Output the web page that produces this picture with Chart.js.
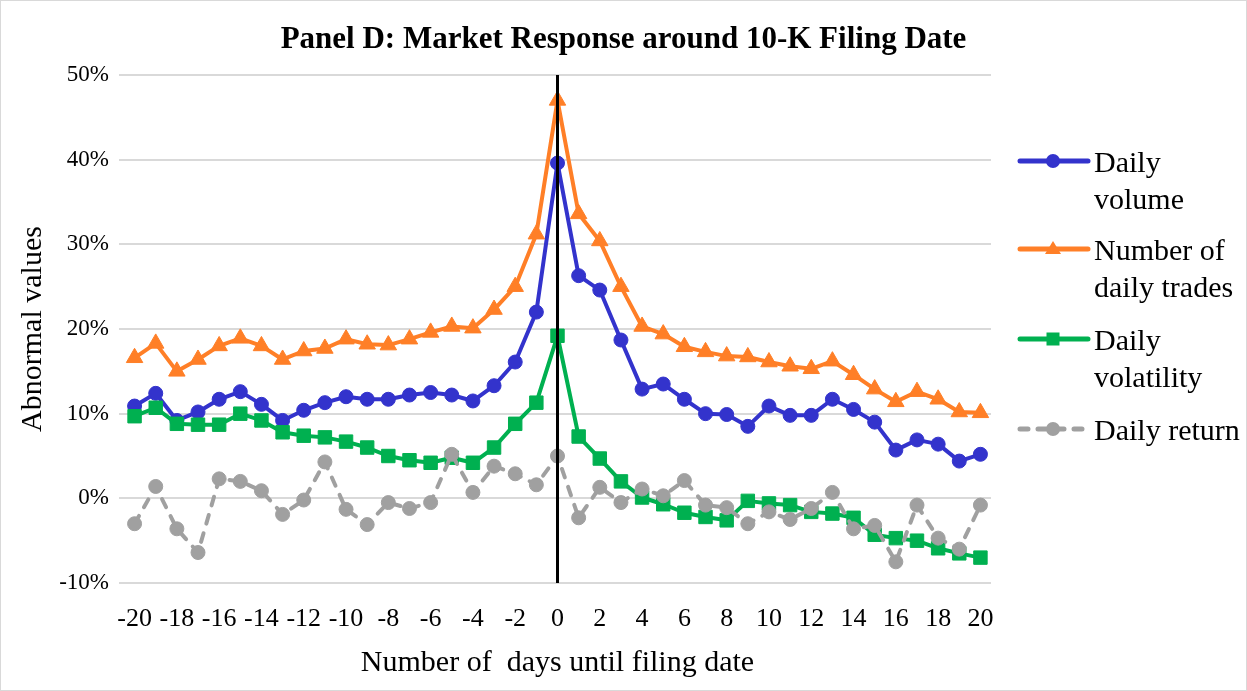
<!DOCTYPE html>
<html>
<head>
<meta charset="utf-8">
<script src="https://cdn.jsdelivr.net/npm/chart.js@4.4.1/dist/chart.umd.min.js"></script>
<style>
  html, body { margin: 0; padding: 0; background: #fff; }
  #wrap { position: relative; width: 1247px; height: 691px; overflow: hidden; }
  #c { position: absolute; left: 0; top: 0; }
  #frame { position: absolute; left: 0; top: 0; width: 1247px; height: 691px; box-sizing: border-box; border: 1px solid #d9d9d9; pointer-events: none; }
  .leg { position: absolute; left: 1017px; font-family: "Liberation Serif", serif; font-size: 30px; line-height: 37px; color: #000; }
  .leg svg { position: absolute; left: 0; top: 8px; }
  .leg .txt { position: absolute; left: 77px; top: 0; white-space: nowrap; }
</style>
</head>
<body>
<div id="wrap">
  <canvas id="c" width="1247" height="691"></canvas>
  <div id="legend"></div>
  <div id="frame"></div>
</div>
<script>
// ---- data ----
const categories = ["-20","-19","-18","-17","-16","-15","-14","-13","-12","-11","-10","-9","-8","-7","-6","-5","-4","-3","-2","-1","0","1","2","3","4","5","6","7","8","9","10","11","12","13","14","15","16","17","18","19","20"];
const dailyVolume = [10.9,12.4,9.2,10.2,11.7,12.6,11.1,9.2,10.4,11.3,12.0,11.7,11.7,12.2,12.5,12.2,11.5,13.3,16.1,22.0,39.6,26.3,24.6,18.7,12.9,13.5,11.7,10.0,9.9,8.5,10.9,9.8,9.8,11.7,10.5,9.0,5.7,6.9,6.4,4.4,5.2];
const dailyTrades = [16.6,18.3,15.0,16.4,18.0,18.9,18.0,16.4,17.4,17.7,18.8,18.2,18.1,18.8,19.6,20.3,20.1,22.3,25.0,31.2,47.0,33.6,30.4,25.0,20.3,19.4,17.9,17.3,16.8,16.7,16.1,15.6,15.3,16.2,14.6,12.9,11.4,12.6,11.7,10.2,10.1];
const dailyVolatility = [9.7,10.7,8.8,8.7,8.7,10.0,9.2,7.8,7.4,7.2,6.7,6.0,5.0,4.5,4.2,4.8,4.2,6.0,8.8,11.3,19.2,7.3,4.7,2.0,0.1,-0.7,-1.7,-2.2,-2.6,-0.3,-0.6,-0.8,-1.6,-1.8,-2.3,-4.3,-4.7,-5.0,-5.9,-6.5,-7.0];
const dailyReturn = [-3.0,1.4,-3.6,-6.4,2.3,2.0,0.9,-1.9,-0.2,4.3,-1.3,-3.1,-0.5,-1.2,-0.5,5.2,0.7,3.8,2.9,1.6,5.0,-2.3,1.3,-0.5,1.1,0.3,2.1,-0.8,-1.1,-3.0,-1.6,-2.5,-1.2,0.7,-3.6,-3.2,-7.5,-0.8,-4.7,-6.0,-0.8];
const seriesNames = ["Daily volume", "Number of daily trades", "Daily volatility", "Daily return"];
const legendLines = [["Daily", "volume"], ["Number of", "daily trades"], ["Daily", "volatility"], ["Daily return"]];
const filingDay = "0";
const yTicks = { min: -10, max: 50, step: 10 };
const titleText = "Panel D: Market Response around 10-K Filing Date";
const xTitle = "Number of  days until filing date";
const yTitle = "Abnormal values";

// ---- styles ----
const colors = ["#3333CC", "#FF7F27", "#00B050", "#A0A0A0"];
const styles = ["circle", "triangle", "rect", "circle"];
const radii = [7, 9.5, 9.5, 7];
const seriesData = [dailyVolume, dailyTrades, dailyVolatility, dailyReturn];
const FONT = '"Liberation Serif", serif';

const datasets = seriesData.map((d, i) => ({
  label: seriesNames[i],
  data: d,
  borderColor: colors[i],
  backgroundColor: colors[i],
  borderWidth: 4,
  borderDash: i === 3 ? [9, 10] : [],
  borderCapStyle: i === 3 ? 'round' : 'butt',
  borderJoinStyle: 'round',
  pointStyle: styles[i],
  pointRadius: radii[i],
  pointBorderWidth: 1,
  pointBorderColor: colors[i],
  pointBackgroundColor: colors[i],
  tension: 0,
  order: 4 - i
}));
datasets.push({
  label: "filing",
  data: [{ x: filingDay, y: yTicks.max }, { x: filingDay, y: yTicks.min }],
  borderColor: "#000",
  borderWidth: 3,
  pointRadius: 0,
  order: 0
});

new Chart(document.getElementById('c'), {
  type: 'line',
  data: { labels: categories, datasets },
  options: {
    responsive: false,
    animation: false,
    events: [],
    layout: { padding: 0 },
    plugins: {
      legend: { display: false },
      tooltip: { enabled: false },
      title: {
        display: true,
        text: titleText,
        color: '#000',
        font: { family: FONT, size: 31, weight: 'bold' },
        padding: { top: 21, bottom: 16.8 }
      }
    },
    scales: {
      x: {
        type: 'category',
        offset: true,
        grid: { display: false, drawTicks: false },
        border: { display: false },
        ticks: {
          autoSkip: false,
          maxRotation: 0,
          color: '#000',
          padding: 21,
          font: { family: FONT, size: 26 },
          callback: function (v, i) { return i % 2 === 0 ? this.getLabelForValue(v) : ''; }
        },
        title: {
          display: true, text: xTitle, color: '#000',
          font: { family: FONT, size: 30 },
          padding: { top: 0, bottom: 10 }
        },
        afterFit: s => { s.height = 108; }
      },
      y: {
        position: 'left',
        min: yTicks.min, max: yTicks.max,
        grid: { color: '#d9d9d9', lineWidth: 2, drawTicks: true, tickLength: 5, tickColor: '#d9d9d9' },
        border: { display: false },
        ticks: {
          stepSize: yTicks.step,
          color: '#000',
          padding: 10,
          font: { family: FONT, size: 23 },
          callback: v => v + '%'
        },
        title: {
          display: true, text: yTitle, color: '#000',
          font: { family: FONT, size: 30 },
          padding: { top: 15, bottom: 0 }
        },
        afterFit: s => { s.width = 124; }
      },
      spacer: {
        position: 'right',
        type: 'linear',
        display: true,
        grid: { display: false, drawTicks: false },
        border: { display: false },
        ticks: { display: false },
        afterFit: s => { s.width = 256; }
      }
    }
  }
});

// ---- HTML legend ----
const legendTops = [143, 231, 321, 411];
const leg = document.getElementById('legend');
legendLines.forEach((lines, i) => {
  const div = document.createElement('div');
  div.className = 'leg';
  div.style.top = legendTops[i] + 'px';
  const c = colors[i];
  let marker;
  if (styles[i] === 'circle') marker = `<circle cx="36" cy="10" r="7" fill="${c}"/>`;
  else if (styles[i] === 'triangle') marker = `<polygon points="36,2 44,15 28,15" fill="${c}"/>`;
  else marker = `<rect x="29.5" y="3.5" width="13" height="13" fill="${c}"/>`;
  const dash = i === 3 ? 'stroke-dasharray="8 10" ' : '';
  div.innerHTML = `<svg width="74" height="20" viewBox="0 0 74 20"><line x1="3" y1="10" x2="71" y2="10" stroke="${c}" stroke-width="5" stroke-linecap="round" ${dash}/>${marker}</svg>` +
    `<div class="txt">${lines.join('<br>')}</div>`;
  leg.appendChild(div);
});
</script>
</body>
</html>
